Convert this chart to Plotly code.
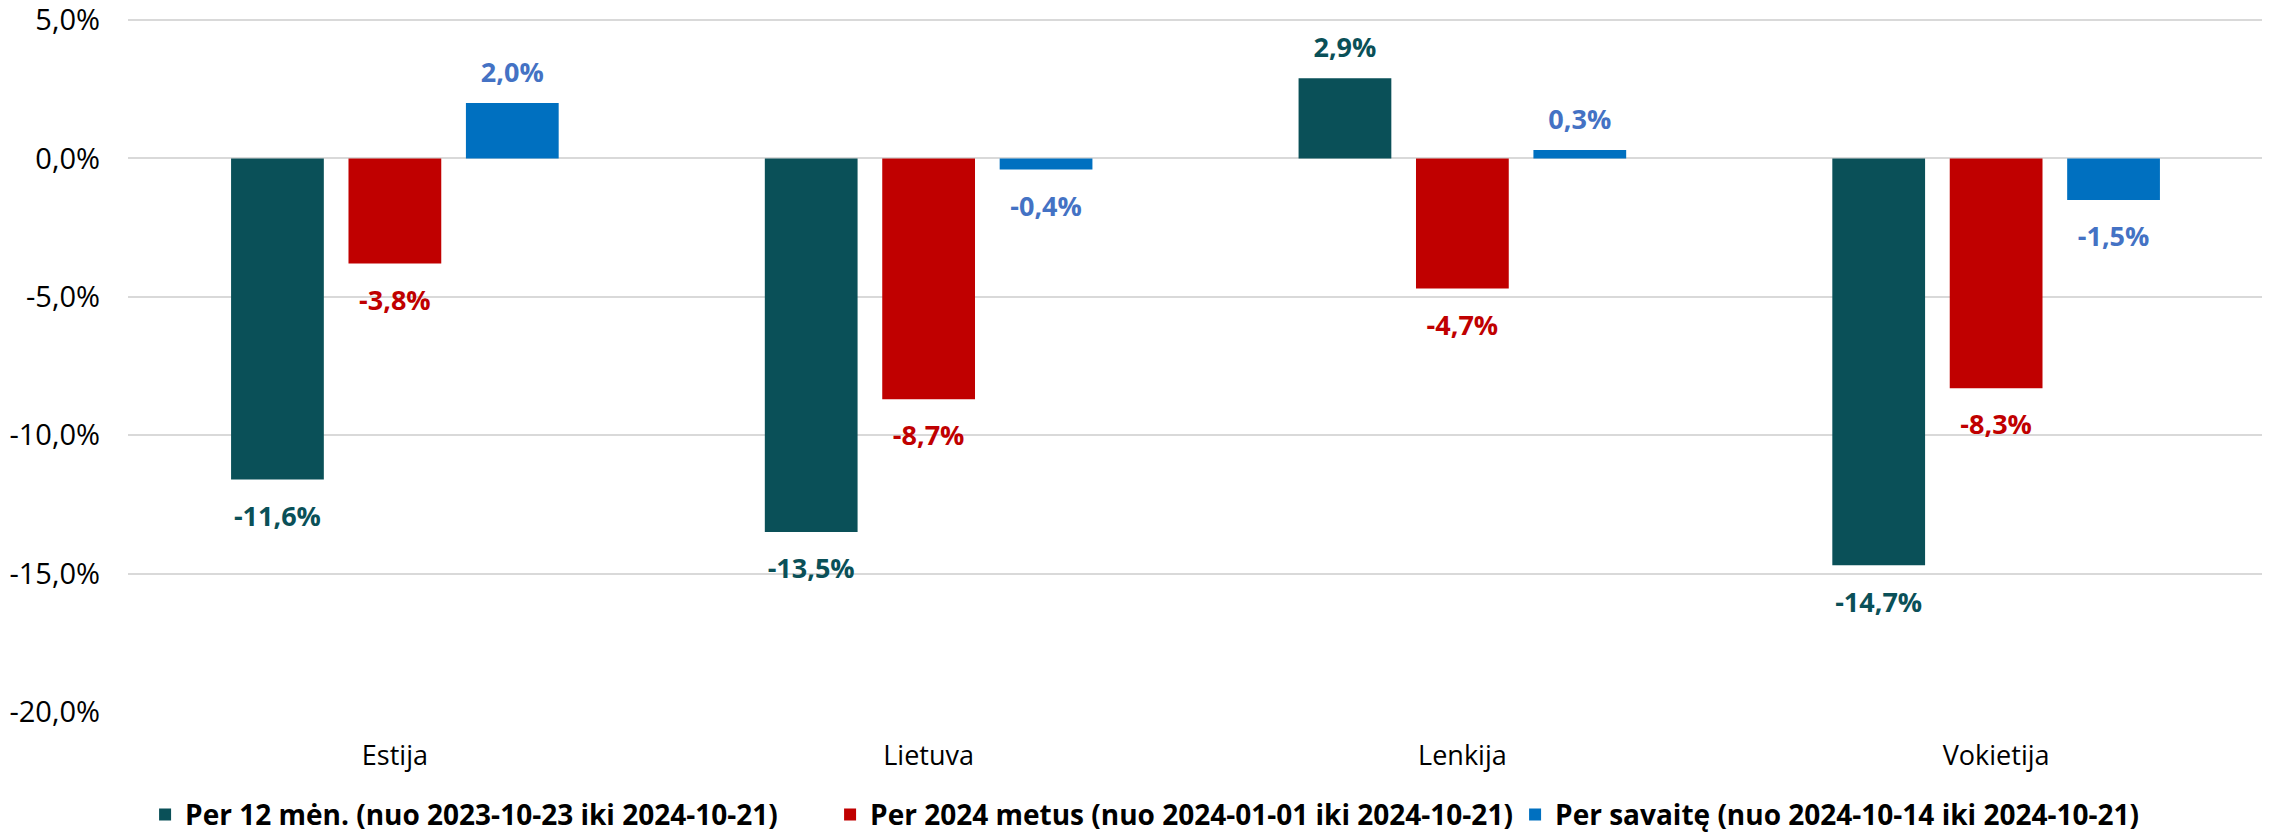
import plotly.graph_objects as go

# categories and series (percent change)
countries = ["Estija", "Lietuva", "Lenkija", "Vokietija"]
per_12_men = [-11.6, -13.5, 2.9, -14.7]
per_2024 = [-3.8, -8.7, -4.7, -8.3]
per_savaite = [2.0, -0.4, 0.3, -1.5]

series_names = [
    "Per 12 mėn. (nuo 2023-10-23 iki 2024-10-21)",
    "Per 2024 metus (nuo 2024-01-01 iki 2024-10-21)",
    "Per savaitę (nuo 2024-10-14 iki 2024-10-21)",
]
y_ticks = [5, 0, -5, -10, -15, -20]

bar_colors = ["#0A5058", "#C00000", "#0070C0"]
label_colors = ["#0A5058", "#C00000", "#4472C4"]


def pct(v):
    return f"{v:.1f}%".replace(".", ",")


fig = go.Figure()
all_series = [per_12_men, per_2024, per_savaite]
for name, vals, bc in zip(series_names, all_series, bar_colors):
    fig.add_trace(go.Bar(
        x=countries, y=vals, name=name,
        marker=dict(color=bc, line=dict(width=0)),
    ))

# value labels, placed with the bars through scatter grouping
for vals, lc in zip(all_series, label_colors):
    fig.add_trace(go.Scatter(
        x=countries, y=vals, mode="markers+text",
        text=[pct(v) for v in vals],
        textposition=["top center" if v >= 0 else "bottom center" for v in vals],
        marker=dict(size=[22 if v >= 0 else 40 for v in vals], opacity=0),
        textfont=dict(family="Open Sans", size=27, color=lc, weight="bold"),
        showlegend=False, hoverinfo="skip", cliponaxis=False,
    ))

# page body has an 8px default margin, so the figure is 8px smaller
fig.update_layout(
    width=2262, height=824,
    margin=dict(l=120, r=7, t=0, b=120, autoexpand=False),
    paper_bgcolor="white", plot_bgcolor="white",
    barmode="group",
    bargap=0.34,
    bargroupgap=0.21,
    scattermode="group",
    scattergap=0.34,
    font=dict(family="Open Sans", color="#000000"),
    xaxis=dict(
        showline=False, showgrid=False, ticks="",
        tickfont=dict(size=27, color="#000000"),
        ticklabelstandoff=25,
        automargin=False,
    ),
    yaxis=dict(
        range=[-20, 5.434],
        tickvals=y_ticks,
        ticktext=[pct(v) for v in y_ticks],
        showgrid=True, gridcolor="#D9D9D9", gridwidth=2,
        zeroline=False, showline=False,
        tickfont=dict(size=29, color="#000000"),
        ticklabelstandoff=27,
        ticklabeloverflow="allow",
        automargin=False,
    ),
    legend=dict(
        orientation="h", x=0.008, xanchor="left", y=-0.146, yanchor="middle",
        font=dict(size=28, color="#000000", weight="bold"),
        itemwidth=30,
        entrywidth=640, entrywidthmode="pixels",
        traceorder="normal",
    ),
    showlegend=True,
)

fig.write_html("out.html")
